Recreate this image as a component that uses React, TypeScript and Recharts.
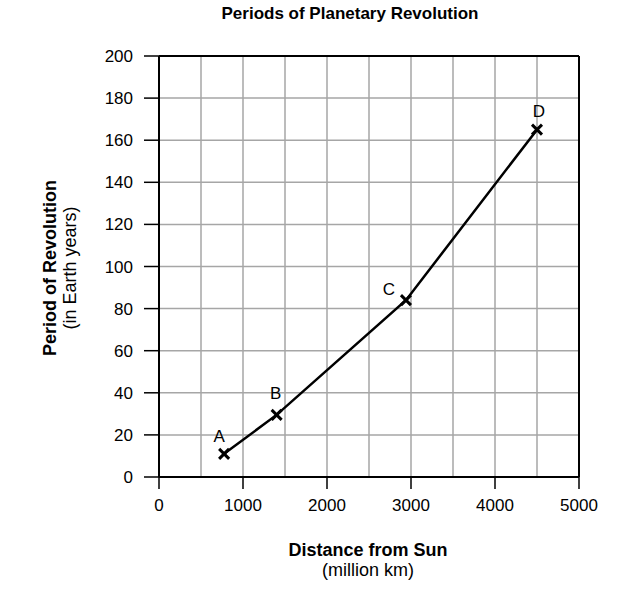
import { LineChart, Line, XAxis, YAxis, ReferenceLine } from "recharts";

const planetNames = ["A", "B", "C", "D"];
const distances = [775, 1400, 2940, 4500];
const periods = [11, 29.5, 84, 165];

const xTicks = [0, 1000, 2000, 3000, 4000, 5000];
const yTicks = [0, 20, 40, 60, 80, 100, 120, 140, 160, 180, 200];
const xGrid = [500, 1000, 1500, 2000, 2500, 3000, 3500, 4000, 4500];
const yGrid = [20, 40, 60, 80, 100, 120, 140, 160, 180];

const data = planetNames.map((name, i) => ({
  name,
  distance: distances[i],
  period: periods[i],
}));

// label offsets from each point (px)
const labelOffsets = [
  { dx: -5, dy: -17 },
  { dx: -1, dy: -21 },
  { dx: -17, dy: -11 },
  { dx: 2, dy: -18 },
];

const FONT = '"Liberation Sans", Arial, Helvetica, sans-serif';

function CrossDot(props: any) {
  const { cx, cy, index, payload } = props;
  if (cx == null || cy == null) return null;
  const s = 5;
  const off = labelOffsets[index] || { dx: 0, dy: -16 };
  return (
    <g key={`dot-${index}`}>
      <line x1={cx - s} y1={cy - s} x2={cx + s} y2={cy + s} stroke="#000" strokeWidth={3} />
      <line x1={cx - s} y1={cy + s} x2={cx + s} y2={cy - s} stroke="#000" strokeWidth={3} />
      <text
        x={cx + off.dx}
        y={cy + off.dy}
        textAnchor="middle"
        dominantBaseline="central"
        fontSize={17}
        fontFamily={FONT}
        fill="#000"
      >
        {payload.name}
      </text>
    </g>
  );
}

function XTick(props: any) {
  const { x, y, payload } = props;
  return (
    <text x={x} y={y + 12} textAnchor="middle" fontSize={17} fontFamily={FONT} fill="#000">
      {payload.value}
    </text>
  );
}

function YTick(props: any) {
  const { x, y, payload } = props;
  return (
    <text x={x} y={y + 6} textAnchor="end" fontSize={17} fontFamily={FONT} fill="#000">
      {payload.value}
    </text>
  );
}

export default function App() {
  return (
    <div
      style={{
        position: "absolute",
        left: 0,
        top: 0,
        width: 640,
        height: 591,
        background: "#fff",
        fontFamily: FONT,
        color: "#000",
      }}
    >
      <div
        style={{
          position: "absolute",
          top: 4,
          left: 150,
          width: 400,
          textAlign: "center",
          fontWeight: "bold",
          fontSize: 17,
        }}
      >
        Periods of Planetary Revolution
      </div>

      <div
        style={{
          position: "absolute",
          left: 60 - 150,
          top: 268 - 20,
          width: 300,
          height: 40,
          transform: "rotate(-90deg)",
          textAlign: "center",
          lineHeight: "20px",
        }}
      >
        <div style={{ fontWeight: "bold", fontSize: 18 }}>Period of Revolution</div>
        <div style={{ fontSize: 18 }}>(in Earth years)</div>
      </div>

      <div
        style={{
          position: "absolute",
          left: 218,
          top: 540,
          width: 300,
          textAlign: "center",
          lineHeight: "20px",
        }}
      >
        <div style={{ fontWeight: "bold", fontSize: 18 }}>Distance from Sun</div>
        <div style={{ fontSize: 18 }}>(million km)</div>
      </div>

      <LineChart
        width={640}
        height={591}
        data={data}
        margin={{ top: 56, right: 61, left: 99, bottom: 84 }}
      >
        <XAxis
          type="number"
          dataKey="distance"
          domain={[0, 5000]}
          ticks={xTicks}
          interval={0}
          height={30}
          tickSize={12}
          tickMargin={10}
          axisLine={{ stroke: "#000", strokeWidth: 2 }}
          tickLine={{ stroke: "#000", strokeWidth: 1.5 }}
          tick={<XTick />}
        />
        <YAxis
          type="number"
          dataKey="period"
          domain={[0, 200]}
          ticks={yTicks}
          interval={0}
          width={60}
          tickSize={15}
          tickMargin={11}
          axisLine={{ stroke: "#000", strokeWidth: 2 }}
          tickLine={{ stroke: "#000", strokeWidth: 1.5 }}
          tick={<YTick />}
        />
        {xGrid.map((v) => (
          <ReferenceLine key={`gx-${v}`} x={v} stroke="#a6a6a6" strokeWidth={1.5} />
        ))}
        {yGrid.map((v) => (
          <ReferenceLine key={`gy-${v}`} y={v} stroke="#a6a6a6" strokeWidth={1.5} />
        ))}
        <ReferenceLine x={5000} stroke="#000" strokeWidth={2} />
        <ReferenceLine y={200} stroke="#000" strokeWidth={2} />
        <Line
          type="linear"
          dataKey="period"
          stroke="#000"
          strokeWidth={2.5}
          dot={<CrossDot />}
          activeDot={false}
          isAnimationActive={false}
        />
      </LineChart>
    </div>
  );
}
